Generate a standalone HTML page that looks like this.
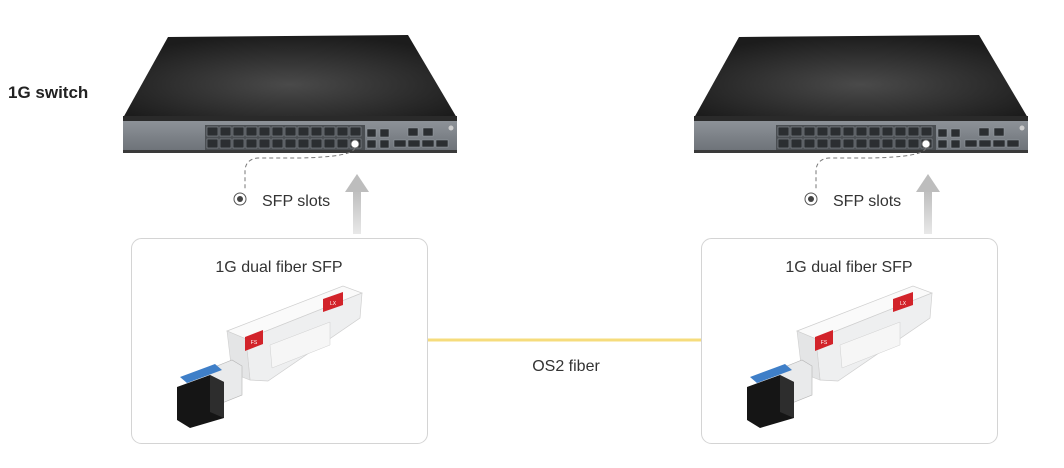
<!DOCTYPE html>
<html><head><meta charset="utf-8"><style>
html,body{margin:0;padding:0;background:#fff;}
svg{display:block;font-family:"Liberation Sans",sans-serif;}
</style></head><body>
<svg width="1064" height="468" viewBox="0 0 1064 468" xmlns="http://www.w3.org/2000/svg">
<defs>
<radialGradient id="top" cx="50%" cy="60%" r="60%">
<stop offset="0" stop-color="#4a4a4a"/><stop offset="1" stop-color="#1c1c1c"/></radialGradient>
<linearGradient id="front" x1="0" y1="0" x2="0" y2="1">
<stop offset="0" stop-color="#8d9298"/><stop offset="1" stop-color="#6c7177"/></linearGradient>
<linearGradient id="arr" x1="0" y1="0" x2="0" y2="1">
<stop offset="0" stop-color="#bdbdbd"/><stop offset="1" stop-color="#e8e8e8"/></linearGradient>
<g id="sw">
<polygon points="123,118 168,37 408,35 457,118" fill="url(#top)"/>
<rect x="123" y="116" width="334" height="5" fill="#2a2a2a"/>
<rect x="123" y="121" width="334" height="31" fill="url(#front)"/>
<rect x="123" y="150" width="334" height="3" fill="#3a3a3a"/>
<rect x="205" y="125" width="160" height="25" fill="#4a4e52"/>
<g fill="#2b2e31" stroke="#9aa0a6" stroke-width="0.5">
<rect x="207" y="127" width="11" height="9"/><rect x="220" y="127" width="11" height="9"/><rect x="233" y="127" width="11" height="9"/><rect x="246" y="127" width="11" height="9"/><rect x="259" y="127" width="11" height="9"/><rect x="272" y="127" width="11" height="9"/><rect x="285" y="127" width="11" height="9"/><rect x="298" y="127" width="11" height="9"/><rect x="311" y="127" width="11" height="9"/><rect x="324" y="127" width="11" height="9"/><rect x="337" y="127" width="11" height="9"/><rect x="350" y="127" width="11" height="9"/>
<rect x="207" y="139" width="11" height="9"/><rect x="220" y="139" width="11" height="9"/><rect x="233" y="139" width="11" height="9"/><rect x="246" y="139" width="11" height="9"/><rect x="259" y="139" width="11" height="9"/><rect x="272" y="139" width="11" height="9"/><rect x="285" y="139" width="11" height="9"/><rect x="298" y="139" width="11" height="9"/><rect x="311" y="139" width="11" height="9"/><rect x="324" y="139" width="11" height="9"/><rect x="337" y="139" width="11" height="9"/><rect x="350" y="139" width="11" height="9"/>
<rect x="367" y="129" width="9" height="8"/><rect x="380" y="129" width="9" height="8"/><rect x="367" y="140" width="9" height="8"/><rect x="380" y="140" width="9" height="8"/>
<rect x="408" y="128" width="10" height="8"/><rect x="423" y="128" width="10" height="8"/>
<rect x="394" y="140" width="12" height="7"/><rect x="408" y="140" width="12" height="7"/><rect x="422" y="140" width="12" height="7"/><rect x="436" y="140" width="12" height="7"/>
</g>
<circle cx="355" cy="144" r="4" fill="#fff" stroke="#666" stroke-width="0.8"/>
<circle cx="451" cy="128" r="2.5" fill="#ccc"/>
</g>
<g id="sfp">
<polygon points="227,331 343,286 362,293 246,339" fill="#fafafa" stroke="#cfcfcf" stroke-width="0.7"/>
<polygon points="246,339 362,293 360,318 268,381 250,380" fill="#eeeff0" stroke="#cfcfcf" stroke-width="0.7"/>
<polygon points="227,331 246,339 250,380 232,373" fill="#e4e5e6" stroke="#cfcfcf" stroke-width="0.6"/>
<polygon points="270,345 330,322 330,345 272,368" fill="#f6f6f6" stroke="#d0d0d0" stroke-width="0.5"/>
<polygon points="245,337 263,330 263,344 245,351" fill="#d2232a"/>
<text x="254" y="344" font-size="5" fill="#fff" text-anchor="middle">FS</text>
<polygon points="323,299 343,292 343,305 323,312" fill="#d2232a"/>
<text x="333" y="305" font-size="5" fill="#fff" text-anchor="middle">LX</text>
<polygon points="207,370 232,360 242,366 242,395 222,403 207,396" fill="#e9eaeb" stroke="#b5b5b5" stroke-width="0.6"/>
<polygon points="180,377 215,364 222,370 187,383" fill="#3f7fc8"/>
<polygon points="177,387 210,375 224,382 224,418 190,428 177,420" fill="#151515"/>
<polygon points="210,375 224,382 224,418 210,412" fill="#2d2d2d"/>
</g>
</defs>

<text x="8" y="98" font-size="17" font-weight="bold" fill="#222">1G switch</text>

<use href="#sw"/>
<use href="#sw" transform="translate(571,0)"/>

<path d="M355,148 Q352,157 300,158 L258,158 Q246,159 245,170 L245,190" fill="none" stroke="#777" stroke-width="1" stroke-dasharray="4,3"/>
<circle cx="240" cy="199" r="6" fill="none" stroke="#555" stroke-width="1"/><circle cx="240" cy="199" r="3" fill="#444"/>
<text x="262" y="206" font-size="16" fill="#333">SFP slots</text>
<rect x="353" y="190" width="8" height="44" fill="url(#arr)"/>
<polygon points="345,192 357,174 369,192" fill="#bdbdbd"/>

<path d="M926,148 Q923,157 871,158 L829,158 Q817,159 816,170 L816,190" fill="none" stroke="#777" stroke-width="1" stroke-dasharray="4,3"/>
<circle cx="811" cy="199" r="6" fill="none" stroke="#555" stroke-width="1"/><circle cx="811" cy="199" r="3" fill="#444"/>
<text x="833" y="206" font-size="16" fill="#333">SFP slots</text>
<rect x="924" y="190" width="8" height="44" fill="url(#arr)"/>
<polygon points="916,192 928,174 940,192" fill="#bdbdbd"/>

<rect x="131.5" y="238.5" width="296" height="205" rx="10" fill="#fff" stroke="#d4d4d4"/>
<rect x="701.5" y="238.5" width="296" height="205" rx="10" fill="#fff" stroke="#d4d4d4"/>
<text x="279" y="272" font-size="16" fill="#333" text-anchor="middle">1G dual fiber SFP</text>
<text x="849" y="272" font-size="16" fill="#333" text-anchor="middle">1G dual fiber SFP</text>
<use href="#sfp"/>
<use href="#sfp" transform="translate(570,0)"/>

<line x1="428" y1="340" x2="701" y2="340" stroke="#f6dc7c" stroke-width="3"/>
<text x="566" y="371" font-size="16" fill="#333" text-anchor="middle">OS2 fiber</text>
</svg>
</body></html>
